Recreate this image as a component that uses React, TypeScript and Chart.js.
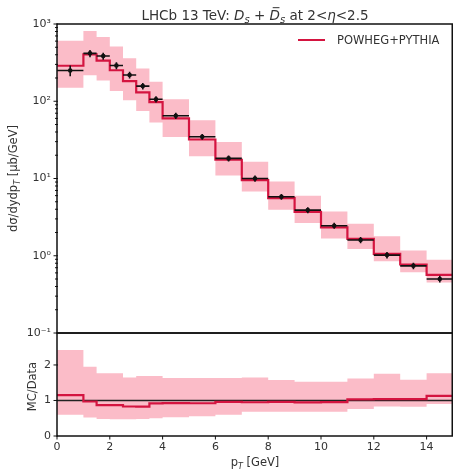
import React, { useEffect, useRef } from 'react';
import { Chart, registerables } from 'chart.js';

Chart.register(...registerables);

// ---- data ----
const binEdges = [0, 1, 1.5, 2, 2.5, 3, 3.5, 4, 5, 6, 7, 8, 9, 10, 11, 12, 13, 14, 15];
const dataValues = [250, 417, 385, 290, 219, 157, 106, 65, 34.7, 18.2, 10.0, 5.8, 3.9, 2.45, 1.6, 1.02, 0.74, 0.5];
const dataErrors = [40, 45, 40, 30, 22, 15, 10, 6, 3, 1.6, 0.9, 0.5, 0.35, 0.22, 0.15, 0.1, 0.07, 0.05];
const mcValues = [288, 405, 335, 252, 182, 130, 97.5, 60, 32, 17.5, 9.5, 5.57, 3.7, 2.33, 1.65, 1.06, 0.77, 0.565];
const mcUpper = [605, 813, 681, 513, 361, 265, 179, 106, 56.6, 29.7, 16.5, 9.16, 5.97, 3.75, 2.59, 1.79, 1.17, 0.885];
const mcLower = [150, 217, 185, 136, 103, 75, 53, 34.5, 19.4, 10.9, 6.8, 3.94, 2.65, 1.67, 1.22, 0.85, 0.61, 0.45];
const xTickValues = [0, 2, 4, 6, 8, 10, 12, 14];
const logTickValues = [0.1, 1, 10, 100, 1000];
const logTickLabels = ['10⁻¹', '10⁰', '10¹', '10²', '10³'];
const ratioTickValues = [0, 1, 2];
const legendLabel = 'POWHEG+PYTHIA';

const FONT = "'DejaVu Sans', sans-serif";
const RED = '#d41440';
const PINK = '#fbbcc8';
const TEXT = '#333';

type Part = { t: string; it?: boolean; sub?: boolean; bar?: boolean };

const titleParts: Part[] = [
  { t: 'LHCb 13 TeV: ' }, { t: 'D', it: true }, { t: 's', it: true, sub: true }, { t: ' + ' },
  { t: 'D', it: true, bar: true }, { t: 's', it: true, sub: true }, { t: ' at 2<' }, { t: 'η', it: true }, { t: '<2.5' },
];
const yTopParts: Part[] = [{ t: 'dσ/dydp' }, { t: 'T', it: true, sub: true }, { t: ' [μb/GeV]' }];
const yBotParts: Part[] = [{ t: 'MC/Data' }];
const xParts: Part[] = [{ t: 'p' }, { t: 'T', it: true, sub: true }, { t: ' [GeV]' }];

function stepPoints(vals: number[]) {
  const pts: { x: number; y: number }[] = [];
  vals.forEach((v, i) => {
    pts.push({ x: binEdges[i], y: v });
    pts.push({ x: binEdges[i + 1], y: v });
  });
  return pts;
}

function drawRich(ctx: CanvasRenderingContext2D, parts: Part[], x: number, y: number, size: number) {
  const fontFor = (p: Part) => `${p.it ? 'italic ' : ''}${p.sub ? Math.round(size * 0.72) : size}px ${FONT}`;
  let total = 0;
  const widths = parts.map((p) => {
    ctx.font = fontFor(p);
    const w = ctx.measureText(p.t).width;
    total += w;
    return w;
  });
  let cx = x - total / 2;
  ctx.textAlign = 'left';
  ctx.textBaseline = 'alphabetic';
  parts.forEach((p, i) => {
    ctx.font = fontFor(p);
    const dy = p.sub ? size * 0.25 : 0;
    ctx.fillText(p.t, cx, y + dy);
    if (p.bar) ctx.fillRect(cx + widths[i] * 0.3, y - size * 0.95, widths[i] * 0.65, Math.max(1, size * 0.07));
    cx += widths[i];
  });
}

const decor = {
  id: 'decor',
  afterDatasetsDraw(chart: any) {
    const ctx: CanvasRenderingContext2D = chart.ctx;
    const x = chart.scales.x;
    const y = chart.scales.yTop;
    ctx.save();
    ctx.strokeStyle = '#111';
    ctx.lineWidth = 1.6;
    dataValues.forEach((v, i) => {
      const x0 = x.getPixelForValue(binEdges[i]);
      const x1 = x.getPixelForValue(binEdges[i + 1]);
      const xc = x.getPixelForValue((binEdges[i] + binEdges[i + 1]) / 2);
      const yc = y.getPixelForValue(v);
      const ylo = y.getPixelForValue(v - dataErrors[i]);
      const yhi = y.getPixelForValue(v + dataErrors[i]);
      ctx.beginPath();
      ctx.moveTo(x0, yc);
      ctx.lineTo(x1, yc);
      ctx.moveTo(xc, ylo);
      ctx.lineTo(xc, yhi);
      ctx.stroke();
    });
    ctx.restore();
  },
  afterDraw(chart: any) {
    const ctx: CanvasRenderingContext2D = chart.ctx;
    const x = chart.scales.x;
    const yt = chart.scales.yTop;
    const yb = chart.scales.yBot;
    const left = chart.chartArea.left;
    const right = chart.chartArea.right;
    ctx.save();
    // frames
    ctx.strokeStyle = '#111';
    ctx.lineWidth = 1.5;
    ctx.strokeRect(left, yt.top, right - left - 0.75, yt.bottom - yt.top);
    ctx.strokeRect(left, yb.top, right - left - 0.75, yb.bottom - yb.top);
    // ticks
    ctx.lineWidth = 1;
    const line = (a: number, b: number, c: number, d: number) => {
      ctx.beginPath();
      ctx.moveTo(a, b);
      ctx.lineTo(c, d);
      ctx.stroke();
    };
    xTickValues.forEach((v) => {
      const px = x.getPixelForValue(v);
      line(px, yb.bottom, px, yb.bottom + 3.5);
    });
    for (let n = -1; n <= 2; n++) {
      for (let k = 1; k <= 9; k++) {
        const v = k * Math.pow(10, n);
        const py = yt.getPixelForValue(v);
        const len = k === 1 ? 3.5 : 2;
        line(left - len, py, left + 1, py);
      }
    }
    line(left - 3.5, yt.getPixelForValue(1000), left + 1, yt.getPixelForValue(1000));
    ratioTickValues.forEach((v) => {
      const py = yb.getPixelForValue(v);
      line(left - 3.5, py, left + 1, py);
    });
    // legend
    const lx = right - 155;
    const ly = yt.top + 16;
    ctx.strokeStyle = RED;
    ctx.lineWidth = 2;
    line(lx, ly, lx + 27, ly);
    ctx.fillStyle = TEXT;
    ctx.font = `11.5px ${FONT}`;
    ctx.textAlign = 'left';
    ctx.textBaseline = 'middle';
    ctx.fillText(legendLabel, lx + 39, ly + 1);
    // title
    ctx.fillStyle = TEXT;
    drawRich(ctx, titleParts, (left + right) / 2, yt.top - 4, 13.5);
    // axis titles
    drawRich(ctx, xParts, (left + right) / 2, yb.bottom + 30, 11.5);
    ctx.save();
    ctx.translate(13, (yt.top + yt.bottom) / 2);
    ctx.rotate(-Math.PI / 2);
    drawRich(ctx, yTopParts, 0, 4, 11.5);
    ctx.restore();
    ctx.save();
    ctx.translate(32, (yb.top + yb.bottom) / 2 + 2);
    ctx.rotate(-Math.PI / 2);
    drawRich(ctx, yBotParts, 0, 4, 11.5);
    ctx.restore();
    ctx.restore();
  },
};

export default function App() {
  const ref = useRef<HTMLCanvasElement>(null);
  useEffect(() => {
    if (!ref.current) return;
    const ratio = mcValues.map((v, i) => v / dataValues[i]);
    const ratioUp = mcUpper.map((v, i) => v / dataValues[i]);
    const ratioDown = mcLower.map((v, i) => v / dataValues[i]);
    const dataRatio = dataValues.map((v, i) => v / dataValues[i]);
    const centers = dataValues.map((v, i) => ({ x: (binEdges[i] + binEdges[i + 1]) / 2, y: v }));
    const base = { pointRadius: 0, tension: 0, borderWidth: 0 };
    const tickFont = { family: 'DejaVu Sans', size: 11 };
    const chart = new Chart(ref.current, {
      type: 'line',
      data: {
        datasets: [
          { ...base, data: stepPoints(mcUpper), yAxisID: 'yTop', fill: false, order: 5 },
          { ...base, data: stepPoints(mcLower), yAxisID: 'yTop', fill: 0, backgroundColor: PINK, order: 5 },
          { ...base, data: stepPoints(mcValues), yAxisID: 'yTop', borderColor: RED, borderWidth: 2.2, fill: false, order: 2 },
          { data: centers, yAxisID: 'yTop', showLine: false, pointRadius: 2.3, pointStyle: 'circle', backgroundColor: '#111', borderColor: '#111', borderWidth: 0, order: 0 },
          { ...base, data: stepPoints(ratioUp), yAxisID: 'yBot', fill: false, order: 5 },
          { ...base, data: stepPoints(ratioDown), yAxisID: 'yBot', fill: 4, backgroundColor: PINK, order: 5 },
          { ...base, data: stepPoints(dataRatio), yAxisID: 'yBot', borderColor: '#222', borderWidth: 1.4, fill: false, order: 3 },
          { ...base, data: stepPoints(ratio), yAxisID: 'yBot', borderColor: RED, borderWidth: 2.2, fill: false, order: 1 },
        ] as any,
      },
      options: {
        responsive: false,
        animation: false,
        events: [],
        layout: { autoPadding: false, padding: { top: 24, left: 0, right: 0, bottom: 0 } },
        plugins: { legend: { display: false }, tooltip: { enabled: false }, title: { display: false } },
        scales: {
          x: {
            type: 'linear',
            position: 'bottom',
            min: 0,
            max: 15,
            grid: { display: false, drawTicks: false },
            border: { display: false },
            afterBuildTicks: (s: any) => { s.ticks = xTickValues.map((v) => ({ value: v })); },
            afterFit: (s: any) => { s.height = 35; },
            ticks: { font: tickFont, color: TEXT, padding: 5, autoSkip: false, maxRotation: 0, callback: (v: any) => String(v) },
          },
          yTop: {
            type: 'logarithmic',
            position: 'left',
            stack: 'panels',
            stackWeight: 3,
            weight: 2,
            min: 0.1,
            max: 1000,
            grid: { display: false, drawTicks: false },
            border: { display: false },
            afterBuildTicks: (s: any) => { s.ticks = logTickValues.map((v) => ({ value: v })); },
            afterFit: (s: any) => { s.width = 57; },
            ticks: {
              font: tickFont, color: TEXT, padding: 6, autoSkip: false,
              callback: (v: any) => { const i = logTickValues.indexOf(Number(v)); return i >= 0 ? logTickLabels[i] : ''; },
            },
          },
          yBot: {
            type: 'linear',
            position: 'left',
            stack: 'panels',
            stackWeight: 1,
            weight: 1,
            min: 0,
            max: 2.9,
            grid: { display: false, drawTicks: false },
            border: { display: false },
            afterBuildTicks: (s: any) => { s.ticks = ratioTickValues.map((v) => ({ value: v })); },
            afterFit: (s: any) => { s.width = 57; },
            ticks: { font: tickFont, color: TEXT, padding: 6, autoSkip: false, callback: (v: any) => String(v) },
          },
        },
      } as any,
      plugins: [decor],
    });
    return () => chart.destroy();
  }, []);
  return (
    <div style={{ position: 'absolute', left: 0, top: 0, width: 453, height: 471, background: '#fff' }}>
      <canvas ref={ref} width={453} height={471} style={{ display: 'block' }} />
    </div>
  );
}
